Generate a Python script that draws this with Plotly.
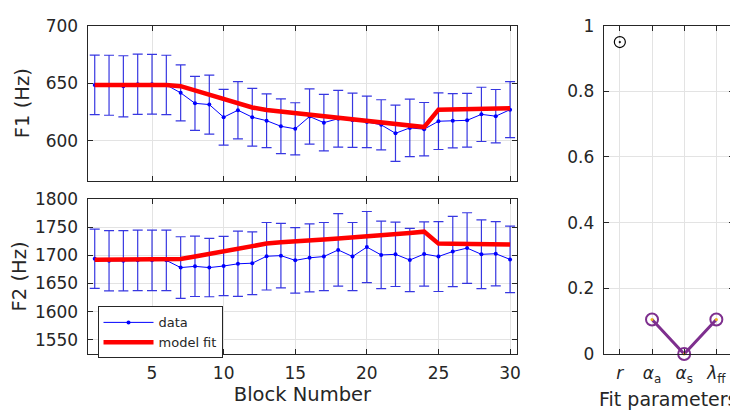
import plotly.graph_objects as go

blocks = list(range(1, 31))

f1_mean = [648.4, 648.1, 647.2, 649.0, 649.0, 648.4, 641.5, 632.4, 631.3, 620.3,
           626.4, 620.3, 617.3, 612.4, 610.2, 620.9, 615.6, 619.0, 617.6, 616.2,
           613.7, 606.3, 611.0, 609.9, 616.8, 617.3, 617.6, 622.8, 621.2, 626.9]
f1_err = [25.9, 26.1, 26.6, 26.2, 26.0, 25.8, 24.3, 23.5, 25.7, 24.3,
          24.9, 25.1, 23.4, 23.8, 22.7, 24.0, 24.5, 24.7, 23.6, 22.4,
          21.8, 24.5, 25.0, 23.2, 24.6, 23.6, 23.4, 23.6, 23.2, 24.3]
f1_fit = [648.4, 648.4, 648.4, 648.4, 648.4, 648.4, 647.3, 643.7, 639.8, 636.0,
          632.7, 628.8, 626.6, 625.3, 623.9, 622.8, 621.4, 620.1, 618.7, 617.3,
          615.9, 614.6, 613.0, 611.7, 626.9, 627.1, 627.3, 627.6, 627.8, 628.1]

f2_mean = [1693.9, 1690.2, 1690.2, 1691.0, 1691.0, 1691.0, 1678.2, 1680.4, 1678.2, 1681.0,
           1684.9, 1686.0, 1698.3, 1699.4, 1691.0, 1695.5, 1697.8, 1709.5, 1697.8, 1714.5,
           1700.6, 1701.7, 1691.6, 1702.2, 1697.8, 1706.7, 1712.8, 1701.7, 1702.8, 1692.7]
f2_err = [52.5, 53.4, 53.4, 53.6, 53.6, 53.6, 54.7, 53.4, 51.7, 52.5,
          57.8, 55.6, 59.8, 57.3, 58.1, 60.3, 60.3, 64.2, 60.3, 63.1,
          59.8, 57.0, 56.1, 57.0, 62.0, 62.3, 62.6, 60.9, 57.0, 58.9]
f2_fit = [1692.2, 1692.2, 1692.2, 1692.2, 1692.2, 1692.2, 1693.3, 1697.8, 1702.2, 1707.3,
          1712.3, 1717.3, 1720.7, 1722.9, 1725.1, 1726.8, 1728.0, 1729.6, 1731.3, 1733.5,
          1735.8, 1737.4, 1739.7, 1741.9, 1720.7, 1720.5, 1720.2, 1719.8, 1719.5, 1719.0]

param_labels = ["<i>r</i>", "<i>α</i><sub>a</sub>", "<i>α</i><sub>s</sub>", "<i>λ</i><sub>ff</sub>"]
param_pos = [1, 2, 3, 4]
r_value = [0.95]
alpha_values = [0.105, 0.0, 0.105]

txt = "#262626"
grid = "#e3e3e3"
font = "DejaVu Sans"
blue = "#0000ff"
red = "#ff0000"
purple = "#7E2F8E"

fig = go.Figure()

# Top panel F1
fig.add_trace(go.Scatter(x=blocks, y=f1_mean, mode="lines+markers", name="data",
                         line=dict(color=blue, width=1), marker=dict(size=4, color=blue),
                         error_y=dict(type="data", array=f1_err, color="rgba(20,20,220,0.85)",
                                      thickness=1.2, width=5),
                         xaxis="x", yaxis="y", showlegend=False))
fig.add_trace(go.Scatter(x=blocks, y=f1_fit, mode="lines", name="model fit",
                         line=dict(color=red, width=4.5), xaxis="x", yaxis="y", showlegend=False))

# Bottom panel F2
fig.add_trace(go.Scatter(x=blocks, y=f2_mean, mode="lines+markers", name="data",
                         line=dict(color=blue, width=1), marker=dict(size=4, color=blue),
                         error_y=dict(type="data", array=f2_err, color="rgba(20,20,220,0.85)",
                                      thickness=1.2, width=5),
                         xaxis="x2", yaxis="y2", showlegend=True))
fig.add_trace(go.Scatter(x=blocks, y=f2_fit, mode="lines", name="model fit",
                         line=dict(color=red, width=4.5), xaxis="x2", yaxis="y2", showlegend=True))

# Right panel params
fig.add_trace(go.Scatter(x=param_pos[:1], y=r_value, mode="markers",
                         marker=dict(symbol="circle-open-dot", size=11, color="black",
                                     line=dict(width=1.2, color="black")),
                         xaxis="x3", yaxis="y3", showlegend=False, cliponaxis=False))
fig.add_trace(go.Scatter(x=param_pos[1:], y=alpha_values, mode="lines+markers",
                         line=dict(color=purple, width=3),
                         marker=dict(symbol="circle-open", size=12, color=purple,
                                     line=dict(width=2, color=purple)),
                         xaxis="x3", yaxis="y3", showlegend=False, cliponaxis=False))
fig.add_trace(go.Scatter(x=param_pos[1:], y=alpha_values, mode="markers",
                         marker=dict(symbol="circle", size=3, color="#EDB120"),
                         xaxis="x3", yaxis="y3", showlegend=False, cliponaxis=False))

axis_common = dict(showline=True, linecolor=txt, linewidth=1, mirror="ticks",
                   ticks="inside", ticklen=5, tickcolor=txt, showgrid=True,
                   gridcolor=grid, gridwidth=1, zeroline=False,
                   tickfont=dict(family=font, size=17, color=txt))

title_font = dict(family=font, size=19.5, color=txt)
left_dom = [80 / 738, 512 / 738]
fig.update_layout(
    width=738, height=416,
    margin=dict(l=0, r=0, t=0, b=0),
    paper_bgcolor="white", plot_bgcolor="white",
    font=dict(family=font, color=txt),
    xaxis=dict(domain=left_dom, anchor="y", range=[0.5, 30.5],
               tickvals=[5, 10, 15, 20, 25, 30], showticklabels=False, **axis_common),
    yaxis=dict(domain=[1 - 171 / 416, 1 - 8 / 416], anchor="x", range=[565, 700],
               tickvals=[600, 650, 700], ticklabelstandoff=5,
               title=dict(text="F1 (Hz)", font=title_font, standoff=10),
               **axis_common),
    xaxis2=dict(domain=left_dom, anchor="y2", range=[0.5, 30.5],
                tickvals=[5, 10, 15, 20, 25, 30], ticklabelstandoff=4,
                title=dict(text="Block Number", font=title_font, standoff=4),
                **axis_common),
    yaxis2=dict(domain=[1 - 353 / 416, 1 - 190 / 416], anchor="x2", range=[1525, 1800],
                tickvals=[1550, 1600, 1650, 1700, 1750, 1800], ticklabelstandoff=5,
                title=dict(text="F2 (Hz)", font=title_font, standoff=10),
                **axis_common),
    xaxis3=dict(domain=[599 / 738, 730 / 738], anchor="y3", range=[0.5, 4.55],
                tickvals=param_pos, ticktext=param_labels, ticklabelstandoff=4,
                **axis_common),
    yaxis3=dict(domain=[1 - 353 / 416, 1 - 8 / 416], anchor="x3", range=[0, 1],
                tickvals=[0, 0.2, 0.4, 0.6, 0.8, 1], ticktext=["0", "0.2", "0.4", "0.6", "0.8", "1"],
                ticklabelstandoff=5,
                **axis_common),
    legend=dict(x=90 / 738, y=1 - 303 / 416, xanchor="left", yanchor="top",
                bgcolor="white", bordercolor=txt, borderwidth=1,
                font=dict(family=font, size=13, color=txt), itemwidth=50,
                tracegroupgap=0),
    annotations=[dict(text="Fit parameters", xref="paper", yref="paper",
                      x=736 / 738, y=1 - 414 / 416, xanchor="right", yanchor="bottom",
                      showarrow=False, font=dict(family=font, size=19, color=txt))],
)

fig.write_html("out.html")
